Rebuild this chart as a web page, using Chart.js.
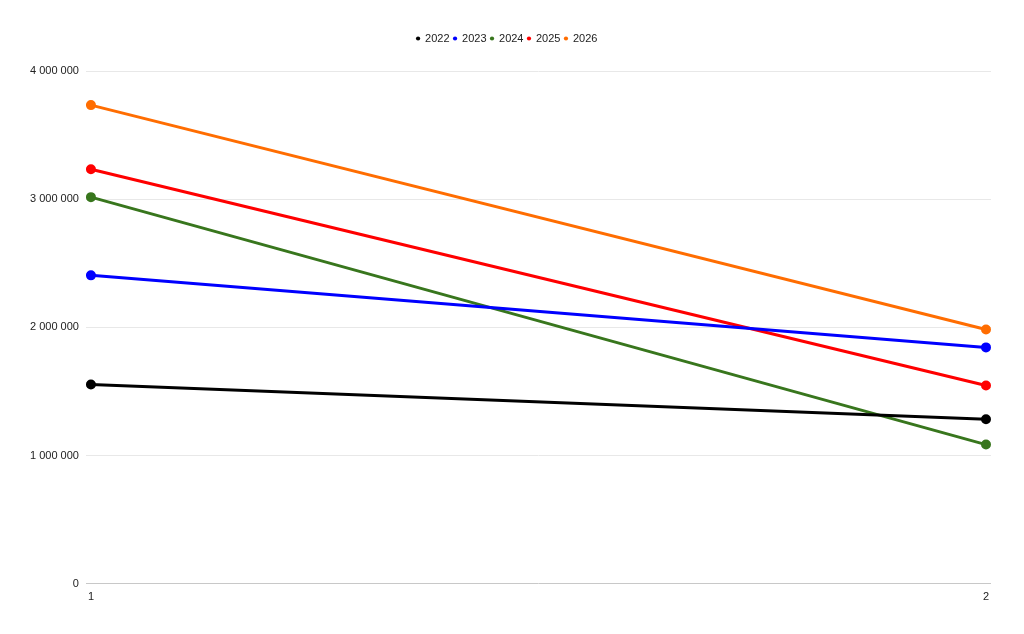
<!DOCTYPE html>
<html>
<head>
<meta charset="utf-8">
<script src="https://cdn.jsdelivr.net/npm/chart.js@4/dist/chart.umd.min.js"></script>
<style>
  html, body { margin: 0; padding: 0; background: #fff; }
  #wrap { width: 1024px; height: 634px; }
</style>
</head>
<body>
<div id="wrap"><canvas id="lineChart"></canvas></div>
<script>
/* ========= DATA ========= */

const xPoints = [1, 2];
const seriesNames = ["2022", "2023", "2024", "2025", "2026"];
const seriesColors = ["#000000", "#0000ff", "#38761d", "#ff0000", "#ff6d01"];

const values2022 = [1555000, 1283000];
const values2023 = [2406000, 1844000];
const values2024 = [3016000, 1086000];
const values2025 = [3234000, 1547000];
const values2026 = [3734000, 1984000];

const yTicks = [0, 1000000, 2000000, 3000000, 4000000];

/* ========= HELPERS ========= */

const FONT = { family: "'Liberation Sans', Arial, sans-serif", size: 11 };

function formatNumber(v) {
  return String(v).replace(/\B(?=(\d{3})+(?!\d))/g, " ");
}

function makeDataset(name, color, values) {
  return {
    label: name,
    data: values.map((v, i) => ({ x: xPoints[i], y: v })),
    borderColor: color,
    backgroundColor: color,
    borderWidth: 3,
    pointRadius: 3.5,
    pointHoverRadius: 4,
    tension: 0,
    fill: false
  };
}

// extra space under the legend
const legendGap = {
  id: "legendGap",
  beforeInit(chart) {
    const fit = chart.legend.fit;
    chart.legend.fit = function () {
      fit.bind(chart.legend)();
      this.height += 17;
    };
  }
};

/* ========= CHART ========= */

const allValues = [values2022, values2023, values2024, values2025, values2026];
const edge = 5 / 895;

new Chart(document.getElementById("lineChart"), {
  type: "line",
  data: {
    datasets: seriesNames.map((n, i) => makeDataset(n, seriesColors[i], allValues[i]))
  },
  options: {
    responsive: true,
    maintainAspectRatio: false,
    animation: false,
    layout: { padding: { left: 23, right: 33, top: 29, bottom: 23 } },
    plugins: {
      legend: {
        position: "top",
        labels: {
          usePointStyle: true,
          pointStyle: "circle",
          boxWidth: 3,
          boxHeight: 3,
          padding: 4,
          color: "#222",
          font: FONT,
          generateLabels(chart) {
            const items = Chart.defaults.plugins.legend.labels.generateLabels(chart);
            items.forEach(it => { it.lineWidth = 0; });
            return items;
          }
        }
      },
      tooltip: { enabled: false }
    },
    scales: {
      x: {
        type: "linear",
        min: xPoints[0] - edge,
        max: xPoints[xPoints.length - 1] + edge,
        afterBuildTicks: axis => { axis.ticks = xPoints.map(v => ({ value: v })); },
        grid: { display: false, drawTicks: false },
        border: { display: false },
        ticks: {
          padding: 7,
          color: "#222",
          font: FONT,
          callback: v => String(v)
        }
      },
      y: {
        min: 0,
        max: 4000000,
        afterBuildTicks: axis => { axis.ticks = yTicks.map(v => ({ value: v })); },
        grid: {
          drawTicks: false,
          color: ctx => ctx.tick && ctx.tick.value === 0 ? "#c8c8c8" : "#e8e8e8",
          lineWidth: 1
        },
        border: { display: false },
        ticks: {
          padding: 7,
          color: "#222",
          font: FONT,
          callback: v => formatNumber(v)
        }
      }
    }
  },
  plugins: [legendGap]
});
</script>
</body>
</html>
